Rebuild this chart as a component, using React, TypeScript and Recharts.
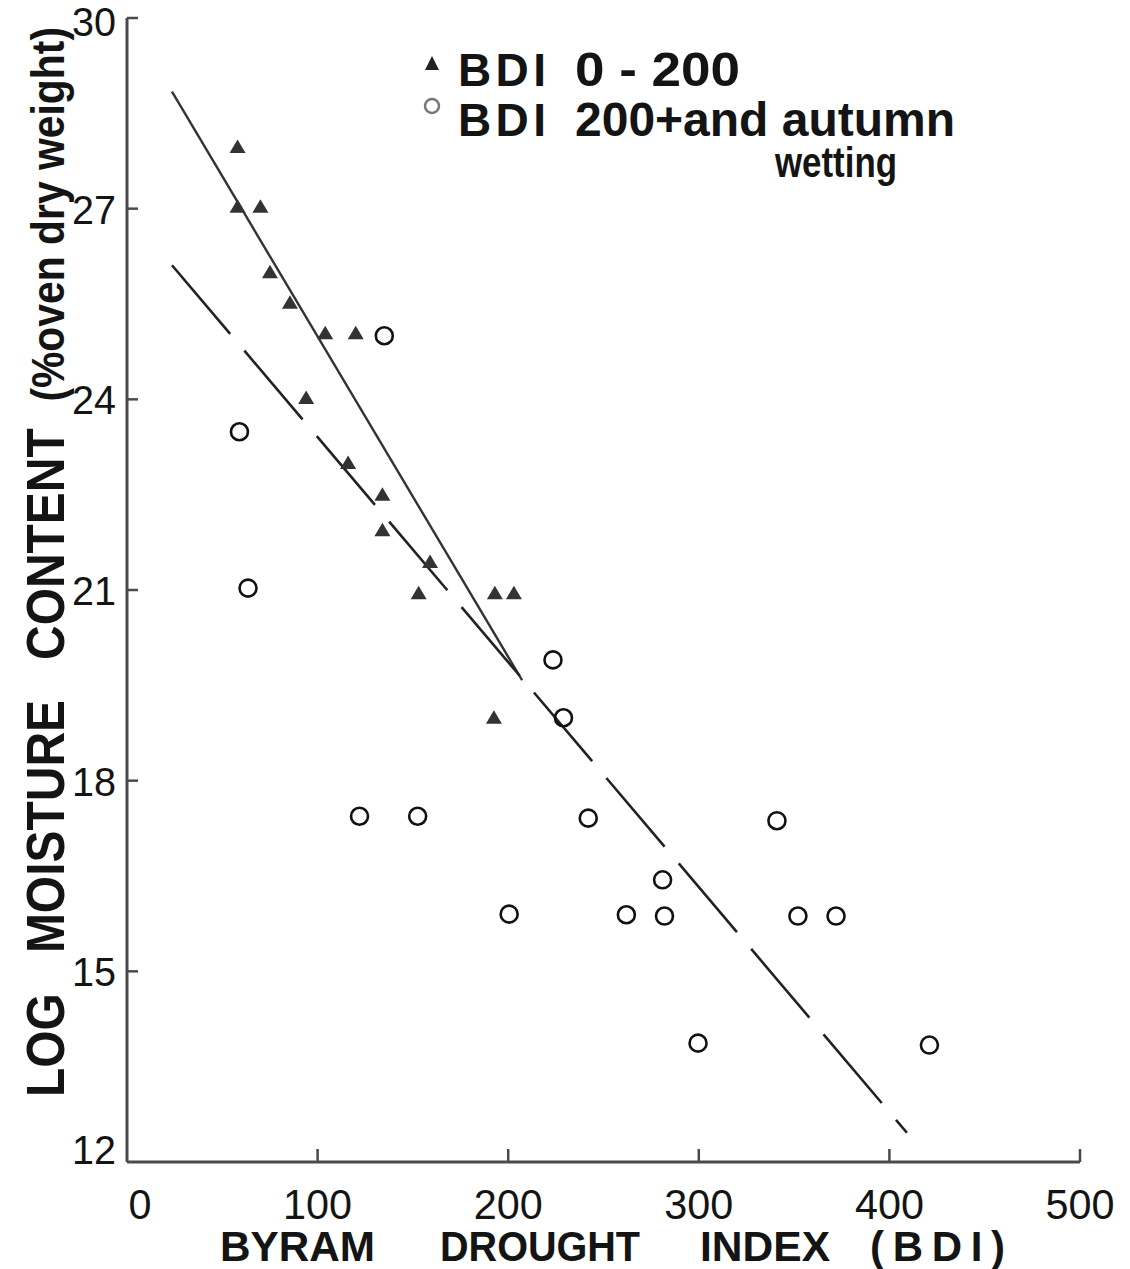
import { ScatterChart, Scatter, XAxis, YAxis, ReferenceLine } from 'recharts';

// BDI 0-200 (triangles)
const bdiLow = [58, 58, 70, 75, 85.5, 104, 120, 94, 116, 134, 134, 159, 153, 193, 203, 192.5];
const mcLow = [27.97, 27.03, 27.03, 26.0, 25.52, 25.04, 25.04, 24.02, 23.0, 22.5, 21.94, 21.44, 20.95, 20.95, 20.95, 18.99];

// BDI 200+ and autumn wetting (circles)
const bdiHigh = [135, 59, 63.5, 223.5, 229, 122, 152.5, 242, 341, 281, 200.5, 262, 282, 352, 372, 299.6, 421];
const mcHigh = [25.0, 23.49, 21.03, 19.9, 18.99, 17.44, 17.44, 17.41, 17.37, 16.44, 15.9, 15.89, 15.87, 15.87, 15.87, 13.87, 13.84];

// fitted lines, end points
const fitLowBdi = [23.6, 207.3];
const fitLowMc = [28.84, 19.58];
const fitHighBdi = [23.6, 409.2];
const fitHighMc = [26.11, 12.46];

const xTicks = [0, 100, 200, 300, 400, 500];
const yTicks = [12, 15, 18, 21, 24, 27, 30];

const lowData = bdiLow.map((b, i) => ({ bdi: b, mc: mcLow[i] }));
const highData = bdiHigh.map((b, i) => ({ bdi: b, mc: mcHigh[i] }));
const toSeg = (xs: number[], ys: number[]) => xs.map((x, i) => ({ x, y: ys[i] }));

const FONT = '"Liberation Sans", Arial, sans-serif';
const INK = '#141414';
const AXIS = '#4a4a4a';
const PLOT_LEFT = 127;
const PLOT_BOTTOM = 1162;

function Triangle(props: any) {
  const { cx, cy } = props;
  return <path d={`M${cx},${cy - 7.5} L${cx + 8},${cy + 6} L${cx - 8},${cy + 6} Z`} fill="#333" />;
}

function Ring(props: any) {
  const { cx, cy } = props;
  return <circle cx={cx} cy={cy} r={8.5} fill="none" stroke="#111" strokeWidth={2.6} />;
}

function YTick(props: any) {
  const { y, payload } = props;
  const label = String(payload.value);
  return (
    <g>
      {payload.value !== 12 && (
        <line x1={PLOT_LEFT} x2={PLOT_LEFT + 11} y1={y} y2={y} stroke={AXIS} strokeWidth={2.5} />
      )}
      <text
        x={PLOT_LEFT - 11}
        y={y}
        dy={payload.value === 12 ? 2 : payload.value === 30 ? 18 : 15}
        textAnchor="end"
        fontSize={40}
        fill={INK}
        fontFamily={FONT}
        textLength={label.length * 22}
        lengthAdjust="spacingAndGlyphs"
      >
        {label}
      </text>
    </g>
  );
}

function XTick(props: any) {
  const { x, payload } = props;
  const label = String(payload.value);
  return (
    <g>
      {payload.value !== 0 && (
        <line x1={x} x2={x} y1={PLOT_BOTTOM} y2={PLOT_BOTTOM - 13} stroke={AXIS} strokeWidth={2.5} />
      )}
      <text
        x={payload.value === 0 ? x + 13 : x}
        y={PLOT_BOTTOM + 57}
        textAnchor="middle"
        fontSize={43}
        fill={INK}
        fontFamily={FONT}
        textLength={label.length * 23}
        lengthAdjust="spacingAndGlyphs"
      >
        {label}
      </text>
    </g>
  );
}

export default function App() {
  return (
    <div style={{ position: 'absolute', left: 0, top: 0, width: 1130, height: 1269, background: '#fff' }}>
      <ScatterChart width={1130} height={1269} margin={{ top: 18, right: 50, bottom: 47, left: 67 }}>
        <XAxis
          type="number"
          dataKey="bdi"
          domain={[0, 500]}
          ticks={xTicks}
          height={60}
          tickLine={false}
          axisLine={{ stroke: AXIS, strokeWidth: 3 }}
          tick={<XTick />}
        />
        <YAxis
          type="number"
          dataKey="mc"
          domain={[12, 30]}
          ticks={yTicks}
          width={60}
          tickLine={false}
          axisLine={{ stroke: AXIS, strokeWidth: 3 }}
          tick={<YTick />}
        />
        <ReferenceLine segment={toSeg(fitLowBdi, fitLowMc)} stroke="#333" strokeWidth={2.4} />
        <ReferenceLine segment={toSeg(fitHighBdi, fitHighMc)} stroke="#222" strokeWidth={2.6} strokeDasharray="90 22" />
        <Scatter data={lowData} shape={<Triangle />} isAnimationActive={false} />
        <Scatter data={highData} shape={<Ring />} isAnimationActive={false} />
      </ScatterChart>

      {/* titles and legend */}
      <svg
        width={1130}
        height={1269}
        style={{ position: 'absolute', left: 0, top: 0, pointerEvents: 'none' }}
        fontFamily={FONT}
        fontWeight="bold"
        fill={INK}
      >
        <text
          transform="translate(64, 562) rotate(-90)"
          textAnchor="middle"
          fontSize={54}
          textLength={1070}
          lengthAdjust="spacingAndGlyphs"
          xmlSpace="preserve"
        >
          {'LOG   MOISTURE   CONTENT  '}
          <tspan fontSize={46}>(%oven dry weight)</tspan>
        </text>

        <text x={220} y={1261} fontSize={42} textLength={155} lengthAdjust="spacingAndGlyphs">BYRAM</text>
        <text x={440} y={1261} fontSize={42} textLength={200} lengthAdjust="spacingAndGlyphs">DROUGHT</text>
        <text x={700} y={1261} fontSize={42} textLength={130} lengthAdjust="spacingAndGlyphs">INDEX</text>
        <text x={870} y={1261} fontSize={42} textLength={135} lengthAdjust="spacing">(BDI)</text>

        <path d="M432,56 L439,70 L425,70 Z" fill="#222" />
        <text x={458} y={86} fontSize={46} textLength={88} lengthAdjust="spacing">BDI</text>
        <text x={575} y={86} fontSize={48} textLength={165} lengthAdjust="spacingAndGlyphs" xmlSpace="preserve">0 - 200</text>

        <circle cx={432} cy={106} r={7} fill="none" stroke="#777" strokeWidth={2.5} />
        <text x={458} y={136} fontSize={46} textLength={88} lengthAdjust="spacing">BDI</text>
        <text x={575} y={136} fontSize={48} textLength={380} lengthAdjust="spacingAndGlyphs">200+and autumn</text>
        <text x={775} y={177} fontSize={42} textLength={122} lengthAdjust="spacingAndGlyphs">wetting</text>
      </svg>
    </div>
  );
}
